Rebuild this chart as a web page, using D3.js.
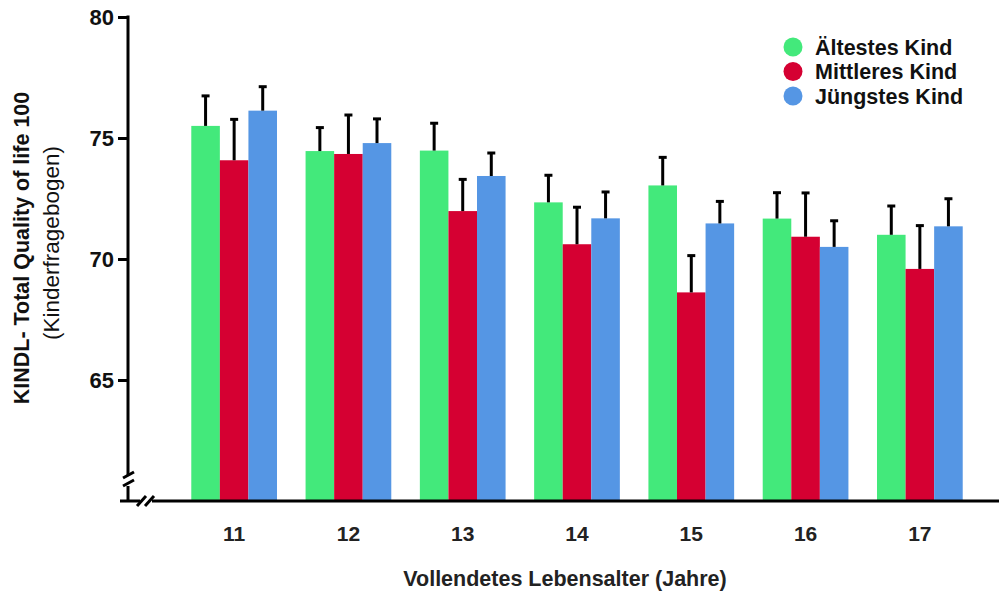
<!DOCTYPE html>
<html>
<head>
<meta charset="utf-8">
<script src="https://cdn.jsdelivr.net/npm/d3@7"></script>
<style>
  body { margin: 0; background: #fff; }
  text { font-family: "Liberation Sans", Arial, sans-serif; }
</style>
</head>
<body>
<div id="chart"></div>
<script>
// ages (categories)
const ages = ['11', '12', '13', '14', '15', '16', '17'];
const seriesNames = ['Ältestes Kind', 'Mittleres Kind', 'Jüngstes Kind'];

// mean values per series
const oldest = [75.50, 74.46, 74.48, 72.34, 73.04, 71.67, 71.00];
const middle = [74.08, 74.34, 71.98, 70.61, 68.62, 70.92, 69.59];
const youngest = [76.13, 74.79, 73.43, 71.68, 71.47, 70.50, 71.35];

// upper error (mean + SE)
const oldestErr = [76.74, 75.43, 75.61, 73.46, 74.20, 72.74, 72.19];
const middleErr = [75.77, 75.95, 73.29, 72.14, 70.14, 72.73, 71.38];
const youngestErr = [77.12, 75.79, 74.38, 72.77, 72.38, 71.58, 72.49];

const yTicks = [65, 70, 75, 80];
const colors = ['#43e97b', '#d50032', '#5596e4'];

const width = 999, height = 591;
const svg = d3.select('#chart').append('svg')
  .attr('width', width)
  .attr('height', height);

const x = d3.scaleBand()
  .domain(ages)
  .range([177, 977])
  .paddingInner(0.25)
  .paddingOuter(0.125);

const xs = d3.scaleBand()
  .domain(seriesNames)
  .range([0, x.bandwidth()]);

const y = d3.scaleLinear()
  .domain([60, 80])
  .range([501, 17]);

const means = [oldest, middle, youngest];
const errs = [oldestErr, middleErr, youngestErr];

// bars
seriesNames.forEach((name, s) => {
  const g = svg.append('g');
  g.selectAll('rect')
    .data(ages)
    .join('rect')
    .attr('x', d => x(d) + xs(name))
    .attr('y', (d, i) => y(means[s][i]))
    .attr('width', xs.bandwidth())
    .attr('height', (d, i) => y(60) - y(means[s][i]))
    .attr('fill', colors[s]);

  // error bars
  g.selectAll('line.err')
    .data(ages)
    .join('line')
    .attr('class', 'err')
    .attr('x1', d => x(d) + xs(name) + xs.bandwidth() / 2)
    .attr('x2', d => x(d) + xs(name) + xs.bandwidth() / 2)
    .attr('y1', (d, i) => y(means[s][i]))
    .attr('y2', (d, i) => y(errs[s][i]))
    .attr('stroke', '#000')
    .attr('stroke-width', 3);

  g.selectAll('line.cap')
    .data(ages)
    .join('line')
    .attr('class', 'cap')
    .attr('x1', d => x(d) + xs(name) + xs.bandwidth() / 2 - 4)
    .attr('x2', d => x(d) + xs(name) + xs.bandwidth() / 2 + 4)
    .attr('y1', (d, i) => y(errs[s][i]))
    .attr('y2', (d, i) => y(errs[s][i]))
    .attr('stroke', '#000')
    .attr('stroke-width', 3);
});

// y axis
const yAxis = svg.append('g')
  .attr('transform', 'translate(128,0)')
  .call(d3.axisLeft(y).tickValues(yTicks).tickSize(10).tickPadding(4));
yAxis.select('.domain').remove();
yAxis.selectAll('.tick line').attr('stroke', '#000').attr('stroke-width', 3);
yAxis.selectAll('.tick text')
  .attr('font-size', 22)
  .attr('font-weight', 'bold')
  .attr('fill', '#111');

// axis lines with break marks
const axisStroke = g => g.attr('stroke', '#000').attr('stroke-width', 3).attr('fill', 'none');
svg.append('line').attr('x1', 128).attr('x2', 128).attr('y1', y(80) - 1.5).attr('y2', 475).call(axisStroke);
svg.append('line').attr('x1', 128).attr('x2', 128).attr('y1', 486).attr('y2', 501).call(axisStroke);
svg.append('line').attr('x1', 120).attr('x2', 140).attr('y1', 501).attr('y2', 501).call(axisStroke);
svg.append('line').attr('x1', 152).attr('x2', width).attr('y1', 501).attr('y2', 501).call(axisStroke);
// slashes
[[123, 478, 134, 472], [123, 486, 134, 480], [137, 506, 146, 496], [145, 506, 154, 496]].forEach(d => {
  svg.append('line')
    .attr('x1', d[0]).attr('y1', d[1]).attr('x2', d[2]).attr('y2', d[3])
    .call(axisStroke);
});

// x axis labels
const xAxis = svg.append('g')
  .attr('transform', 'translate(0,501)')
  .call(d3.axisBottom(x).tickSize(0).tickPadding(25));
xAxis.select('.domain').remove();
xAxis.selectAll('.tick text')
  .attr('font-size', 21)
  .attr('font-weight', 'bold')
  .attr('fill', '#222');

// axis titles
svg.append('text')
  .attr('x', 565)
  .attr('y', 586)
  .attr('text-anchor', 'middle')
  .attr('font-size', 21.5)
  .attr('font-weight', 'bold')
  .attr('fill', '#222')
  .text('Vollendetes Lebensalter (Jahre)');

svg.append('text')
  .attr('transform', 'translate(29,248) rotate(-90)')
  .attr('text-anchor', 'middle')
  .attr('font-size', 21.5)
  .attr('font-weight', 'bold')
  .attr('fill', '#111')
  .text('KINDL- Total Quality of life 100');

svg.append('text')
  .attr('transform', 'translate(59,243) rotate(-90)')
  .attr('text-anchor', 'middle')
  .attr('font-size', 22.5)
  .attr('fill', '#111')
  .text('(Kinderfragebogen)');

// legend
const legend = svg.append('g').attr('transform', 'translate(793,47)');
seriesNames.forEach((name, i) => {
  const row = legend.append('g').attr('transform', 'translate(0,' + (i * 24.5) + ')');
  row.append('circle').attr('r', 9.5).attr('fill', colors[i]);
  row.append('text')
    .attr('x', 22)
    .attr('dy', '0.36em')
    .attr('font-size', 21.5)
    .attr('font-weight', 'bold')
    .attr('fill', '#111')
    .text(name);
});
</script>
</body>
</html>
